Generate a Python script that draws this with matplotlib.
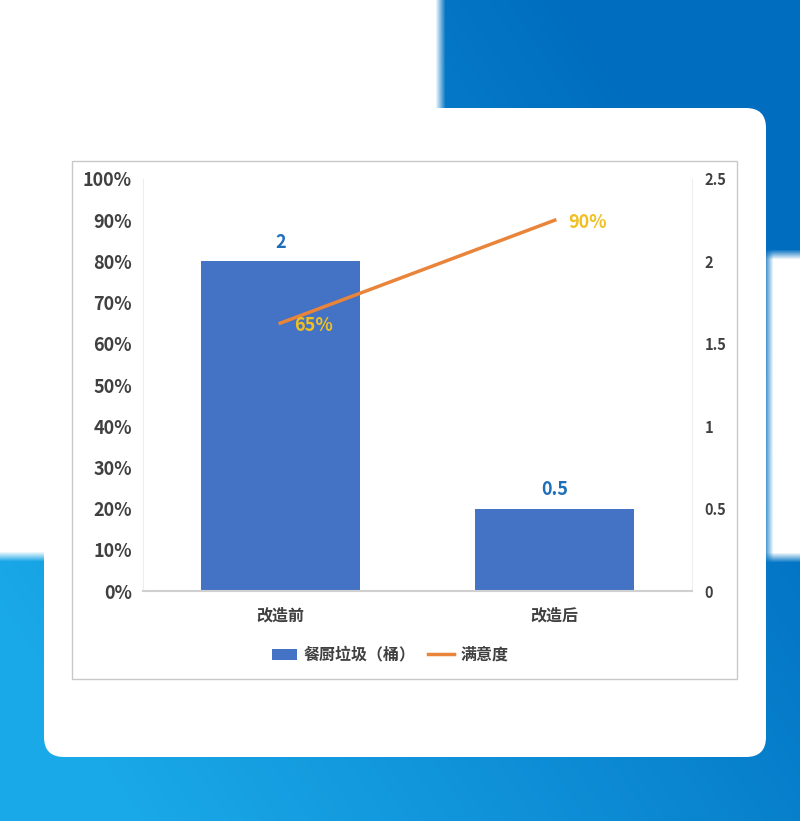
import numpy as np
import matplotlib
matplotlib.use("Agg")
import matplotlib.pyplot as plt
from matplotlib.patches import FancyBboxPatch, Rectangle
from matplotlib.ticker import PercentFormatter

plt.rcParams['font.family'] = ['Noto Sans CJK SC', 'DejaVu Sans']
plt.rcParams['font.weight'] = 'heavy'

# data
categories = ["改造前", "改造后"]
kitchen_waste = [2, 0.5]          # 餐厨垃圾（桶）, right axis
satisfaction = [65, 90]           # 满意度 (%), left axis
bar_labels = ["2", "0.5"]
line_labels = ["65%", "90%"]

W, H = 800, 821
fig = plt.figure(figsize=(W / 100, H / 100), dpi=100)

# background: blue gradient with soft white blocks
bg = fig.add_axes([0, 0, 1, 1], zorder=-10)
bg.set_axis_off()
yy, xx = np.mgrid[0:H, 0:W].astype(float)
u = np.clip(((W - xx) / W) * 0.6 + (yy / H) * 0.4, 0, 1)  # light toward bottom-left
light = np.array([0.10, 0.66, 0.91])
dark = np.array([0.00, 0.43, 0.75])
k = np.clip(u * 1.4 - 0.25, 0, 1)[..., None]
img = dark * (1 - k) + light * k


def soft_rect(x0, x1, y0, y1, f=10.0):
    ax_ = np.clip((xx - x0) / f + 0.5, 0, 1) * np.clip((x1 - xx) / f + 0.5, 0, 1)
    ay_ = np.clip((yy - y0) / f + 0.5, 0, 1) * np.clip((y1 - yy) / f + 0.5, 0, 1)
    return (ax_ * ay_)[..., None]


m = np.maximum(soft_rect(-50, 440, -50, 556), soft_rect(768, 900, 254, 557))
img = img * (1 - m) + m
bg.imshow(img, extent=[0, W, H, 0], aspect='auto')
bg.set_xlim(0, W)
bg.set_ylim(H, 0)

# white card and inner chart frame
bg.add_patch(FancyBboxPatch((44 + 20, 108 + 20), 722 - 40, 649 - 40,
                            boxstyle="round,pad=20", fc='white', ec='none', zorder=2))
bg.add_patch(Rectangle((72, 161), 665, 518, fc='white', ec='#c8c8c8', lw=1, zorder=3))

# main chart
ax = fig.add_axes([143 / W, 1 - 591 / H, 549 / W, 412 / H])
ax2 = ax.twinx()
ax.set_zorder(2)
ax2.set_zorder(1)
ax.patch.set_visible(False)

x = np.arange(len(categories))
bars = ax2.bar(x, kitchen_waste, width=0.58, color='#4472C4', label='餐厨垃圾（桶）', zorder=2)
ax2.set_ylim(0, 2.5)
ax2.set_yticks([0, 0.5, 1, 1.5, 2, 2.5])
ax2.set_yticklabels(['0', '0.5', '1', '1.5', '2', '2.5'])
for b, lab in zip(bars, bar_labels):
    ax2.text(b.get_x() + b.get_width() / 2, b.get_height() + 0.06, lab,
             ha='center', va='bottom', color='#1F6FB8', fontsize=13, fontweight='heavy')

line, = ax.plot(x, satisfaction, color='#E8853A', lw=2.5, label='满意度', zorder=3)
ax.set_ylim(0, 100)
ax.set_yticks(range(0, 101, 10))
ax.yaxis.set_major_formatter(PercentFormatter(decimals=0))
for xi, v, lab in zip(x, satisfaction, line_labels):
    ax.text(xi + 0.05, v - 0.5, lab, ha='left', va='center', color='#F0C020',
            fontsize=13, fontweight='heavy', zorder=4)

ax.set_xlim(-0.5, 1.5)
ax.set_xticks(x)
ax.set_xticklabels(categories)

for a in (ax, ax2):
    for s in a.spines.values():
        s.set_visible(False)
    a.tick_params(length=0)
ax.spines['bottom'].set_visible(True)
ax.spines['bottom'].set_color('#d0d0d0')
ax.spines['bottom'].set_linewidth(1.5)
ax.spines['left'].set_visible(True)
ax.spines['left'].set_color('#eeeeee')
ax2.spines['right'].set_visible(True)
ax2.spines['right'].set_color('#eeeeee')

ax.tick_params(axis='y', labelsize=13, labelcolor='#404040', pad=8)
ax.tick_params(axis='x', labelsize=11.5, labelcolor='#404040', pad=12)
ax2.tick_params(axis='y', labelsize=10.5, labelcolor='#404040', pad=9)
for lab in ax.get_yticklabels() + ax.get_xticklabels() + ax2.get_yticklabels():
    lab.set_fontweight('heavy')

fig.legend([bars, line], ['餐厨垃圾（桶）', '满意度'], loc='center',
           bbox_to_anchor=(390 / W, 1 - 655 / H), ncol=2, frameon=False,
           prop={'size': 11.5, 'weight': 'heavy'}, labelcolor='#404040',
           handlelength=1.6, handletextpad=0.4, columnspacing=0.8)

fig.savefig('out.png', dpi=100)
